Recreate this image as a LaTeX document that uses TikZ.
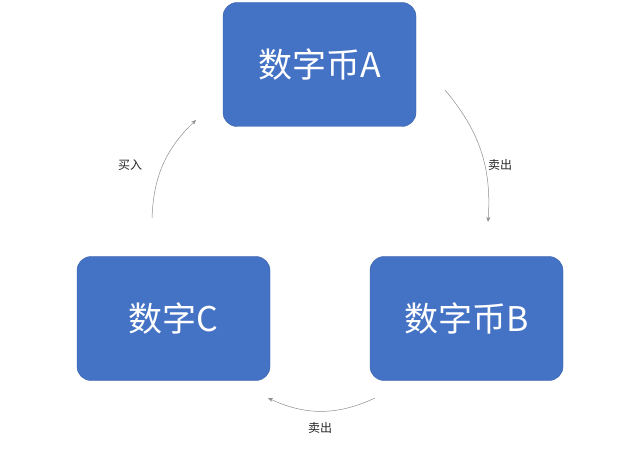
\documentclass[tikz,border=0pt]{standalone}
\usepackage{fontspec}
\newfontfamily\cjk{Noto Sans CJK SC}
\usetikzlibrary{positioning,arrows.meta}
\definecolor{coinblue}{HTML}{4472C4}
\tikzset{
  coin/.style={draw=coinblue!85!black,fill=coinblue,rounded corners=14pt,minimum width=193pt,minimum height=124pt,text=white,font=\cjk\fontsize{34}{40}\selectfont},
  flow/.style={draw=black!45,line width=0.5pt,-{Stealth[length=5pt,width=4pt]}},
  tag/.style={font=\cjk\fontsize{12}{14}\selectfont,text=black!85}
}
\begin{document}
\begin{tikzpicture}[x=1pt,y=-1pt]
  \useasboundingbox (0,0) rectangle (640,449);
  \node [coin] (a) at (319.5,64.5) {数字币A};
  \node [coin] (b) at (466.5,318.5) {数字币B};
  \node [coin] (c) at (173.5,318.5) {数字C};
  \coordinate (a1) at (445,90);
  \coordinate (b1) at (488,222);
  \coordinate (b2) at (375,398);
  \coordinate (c1) at (268,398);
  \coordinate (c2) at (152,218);
  \coordinate (a2) at (196,120);
  \draw [flow] (a1) to [bend left=22] (b1);
  \draw [flow] (b2) to [bend left=25] (c1);
  \draw [flow] (c2) to [bend left=22] (a2);
  \node [tag] (s1) at (500,165) {卖出};
  \node [tag] (s2) at (320,428) {卖出};
  \node [tag] (s3) at (130,165) {买入};
\end{tikzpicture}
\end{document}
